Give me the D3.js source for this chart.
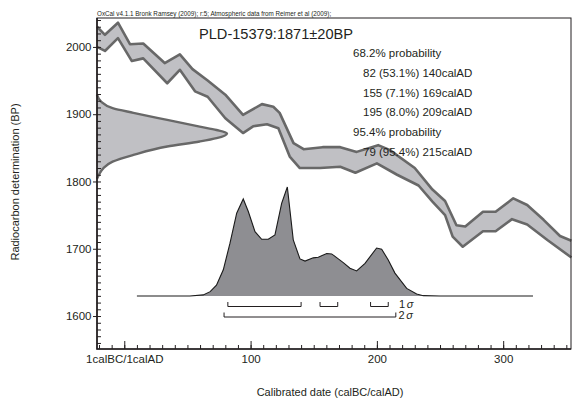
<!DOCTYPE html>
<html>
<head>
<meta charset="utf-8">
<script src="https://cdn.jsdelivr.net/npm/d3@7"></script>
<style>
body { margin: 0; background: #fff; }
text { font-family: "Liberation Sans", Arial, sans-serif; fill: #231f20; }
</style>
</head>
<body>
<div id="chart"></div>
<script>
// calibration curve edges [calAD, BP]
let curveUpper = [[-21.6,2030],[-15.3,2018],[-5,2036],[4.5,2004],[15,2005],[32,1976],[44,1989],[54,1967],[66,1950],[80,1929],
    [94,1899],[109,1915],[118,1911],[123,1902],[134,1857],[142,1848],[157,1851],[171,1851],[184,1844],[201,1854],
    [210,1847],[230,1820],[244,1788],[254,1771],[263,1735],[270,1733],[284,1755],[294,1755],[308,1775],[319,1765],
    [332,1743],[345,1719],[354,1712]];
let curveLower = [[-21.6,2000],[-15.3,1994],[-5,2013],[6,1979],[15,1983],[34,1946],[44,1966],[56,1934],[66,1926],[80,1894],
    [94,1872],[102,1882],[113,1885],[122,1879],[131,1837],[139,1820],[155,1820],[171,1822],[183,1813],[200,1827],
    [216,1810],[233,1794],[244,1770],[254,1750],[260,1718],[268,1703],[284,1726],[294,1726],[307,1744],[319,1736],
    [335,1713],[354,1687]];

// radiocarbon determination (left)
let c14BP   = [1929, 1919, 1909, 1902, 1891.5, 1881.5, 1876.5, 1871.5, 1864.5, 1859.5, 1852, 1839.5, 1829.5, 1820, 1810, 1804];
let c14Prob = [0, 0.03, 0.12, 0.28, 0.54, 0.79, 0.92, 1, 0.92, 0.79, 0.54, 0.28, 0.12, 0.05, 0.015, 0];

// calibrated distribution
let calYears = [10,52,62.5,68,73,78.4,83.7,89,94.2,98.2,103.5,108.8,114,119.3,124.6,129.1,133.8,139.1,143.1,149.6,
    153.6,160.3,164.2,173.4,178.7,184,190.6,199.8,203.8,209,214.3,223.6,231.5,236.7,250,323.6];
let calProb = [0,0,0.01,0.04,0.10,0.24,0.485,0.76,0.89,0.775,0.59,0.52,0.52,0.56,0.85,1.0,0.515,0.34,0.32,0.35,
    0.356,0.39,0.386,0.306,0.255,0.23,0.30,0.44,0.43,0.33,0.21,0.07,0.018,0.003,0,0];

let sigma1Ranges = [[82,140],[155,169],[195,209]];
let sigma2Ranges = [[79,215]];

let yTicks = [1600, 1700, 1800, 1900, 2000];
let xTicks = [0, 100, 200, 300];
let xTickLabels = ["1calBC/1calAD", "100", "200", "300"];

let probLines = [
    {text: "68.2% probability", indent: 0},
    {text: "82 (53.1%) 140calAD", indent: 10},
    {text: "155 (7.1%) 169calAD", indent: 10},
    {text: "195 (8.0%) 209calAD", indent: 10},
    {text: "95.4% probability", indent: 0},
    {text: "79 (95.4%) 215calAD", indent: 10}
];

var svgwidth = 575, svgheight = 401;
var margin = {top: 18, right: 4, bottom: 52, left: 97},
    width = svgwidth - margin.left - margin.right,
    height = svgheight - margin.top - margin.bottom;

let svg = d3.select("#chart").append("svg")
    .attr("width", svgwidth)
    .attr("height", svgheight);

let x = d3.scaleLinear().domain([-21.6, 353.7]).range([margin.left, margin.left + width]);
let y = d3.scaleLinear().domain([1551, 2043]).range([margin.top + height, margin.top]);
// probability scales
let px = d3.scaleLinear().domain([0, 1]).range([margin.left, 227]);
let py = d3.scaleLinear().domain([0, 1]).range([296, 187]);

// band
let band = curveUpper.map(d => [x(d[0]), y(d[1])])
    .concat(curveLower.slice().reverse().map(d => [x(d[0]), y(d[1])]));
svg.append("path")
    .attr("d", "M" + band.join("L") + "Z")
    .style("fill", "#c0c0c4");

let edge = d3.line().x(d => x(d[0])).y(d => y(d[1]));
[curveUpper, curveLower].forEach(c => {
    svg.append("path")
        .attr("d", edge(c))
        .style("fill", "none")
        .style("stroke", "#686868")
        .style("stroke-width", 2.6)
        .style("stroke-linejoin", "round");
});

// c14 gaussian
let c14 = c14BP.map((b, i) => ({bp: b, p: c14Prob[i]}));
svg.append("path")
    .datum(c14)
    .attr("d", d3.area().y(d => y(d.bp)).x0(px(0)).x1(d => px(d.p)).curve(d3.curveMonotoneY))
    .style("fill", "#c0c0c4");
svg.append("path")
    .datum(c14)
    .attr("d", d3.line().y(d => y(d.bp)).x(d => px(d.p)).curve(d3.curveMonotoneY))
    .style("fill", "none")
    .style("stroke", "#686868")
    .style("stroke-width", 2.4);

// calibrated distribution
let cal = calYears.map((yr, i) => ({yr: yr, p: calProb[i]}));
svg.append("path")
    .datum(cal)
    .attr("d", d3.area().x(d => x(d.yr)).y0(py(0)).y1(d => py(d.p)))
    .style("fill", "#8e8e92");
svg.append("path")
    .datum(cal)
    .attr("d", d3.line().x(d => x(d.yr)).y(d => py(d.p)))
    .style("fill", "none")
    .style("stroke", "#1a1a1a")
    .style("stroke-width", 1.1);

// range brackets
function bracket(ranges, yy, label, lx) {
    ranges.forEach(r => {
        svg.append("path")
            .attr("d", "M" + x(r[0]) + "," + (yy - 4.5) + "V" + yy + "H" + x(r[1]) + "V" + (yy - 4.5))
            .style("fill", "none")
            .style("stroke", "#231f20")
            .style("stroke-width", 1);
    });
    let t = svg.append("text")
        .attr("x", lx)
        .attr("y", yy + 1.5)
        .style("font-size", "11px")
        .text(label);
    t.append("tspan").attr("dx", 1.5).style("font-style", "italic").text("\u03c3");
}
bracket(sigma1Ranges, 306.5, "1", 399);
bracket(sigma2Ranges, 317, "2", 398.5);

// axes
let yMinor = svg.append("g")
    .attr("transform", "translate(" + margin.left + ",0)")
    .call(d3.axisRight(y).tickValues(d3.range(1560, 2043, 10)).tickSize(4).tickFormat(""));
let yAxis = svg.append("g")
    .attr("transform", "translate(" + margin.left + ",0)")
    .call(d3.axisLeft(y).tickValues(yTicks).tickSize(4).tickPadding(1.5).tickFormat(d3.format("d")));
yAxis.selectAll("text").style("font-size", "11.5px").attr("font-family", null);

let xMinor = svg.append("g")
    .attr("transform", "translate(0," + (margin.top + height) + ")")
    .call(d3.axisTop(x).tickValues(d3.range(-20, 354, 10)).tickSize(4).tickFormat(""));
let xAxis = svg.append("g")
    .attr("transform", "translate(0," + (margin.top + height) + ")")
    .call(d3.axisBottom(x).tickValues(xTicks).tickSize(-8).tickPadding(6)
        .tickFormat((d, i) => xTickLabels[i]));
xAxis.selectAll("text").style("font-size", "11.5px").attr("font-family", null);

[yMinor, yAxis, xMinor, xAxis].forEach(g => {
    g.select(".domain").remove();
    g.selectAll("line").style("stroke", "#231f20").style("stroke-width", 1);
});

// frame
svg.append("rect")
    .attr("x", margin.left).attr("y", margin.top)
    .attr("width", width).attr("height", height)
    .style("fill", "none").style("stroke", "#231f20").style("stroke-width", 1);
svg.append("path")
    .attr("d", "M" + margin.left + "," + margin.top + "V" + (margin.top + height) + "H" + (margin.left + width))
    .style("fill", "none").style("stroke", "#231f20").style("stroke-width", 1.6);

// texts
svg.append("text")
    .attr("x", margin.left).attr("y", 15.5)
    .style("font-size", "6.3px")
    .text("OxCal v4.1.1 Bronk Ramsey (2009); r:5; Atmospheric data from Reimer et al (2009);");

svg.append("text")
    .attr("x", 199).attr("y", 38.7)
    .style("font-size", "14.6px")
    .text("PLD-15379:1871\u00b120BP");

svg.selectAll(".prob")
    .data(probLines)
  .enter().append("text")
    .attr("class", "prob")
    .attr("x", d => 353 + d.indent)
    .attr("y", (d, i) => 57.3 + i * 19.7)
    .style("font-size", "11.5px")
    .text(d => d.text);

svg.append("text")
    .attr("transform", "translate(19,182) rotate(-90)")
    .style("text-anchor", "middle")
    .style("font-size", "11px")
    .text("Radiocarbon determination (BP)");

svg.append("text")
    .attr("x", 330).attr("y", 396)
    .style("text-anchor", "middle")
    .style("font-size", "11px")
    .text("Calibrated date (calBC/calAD)");
</script>
</body>
</html>
